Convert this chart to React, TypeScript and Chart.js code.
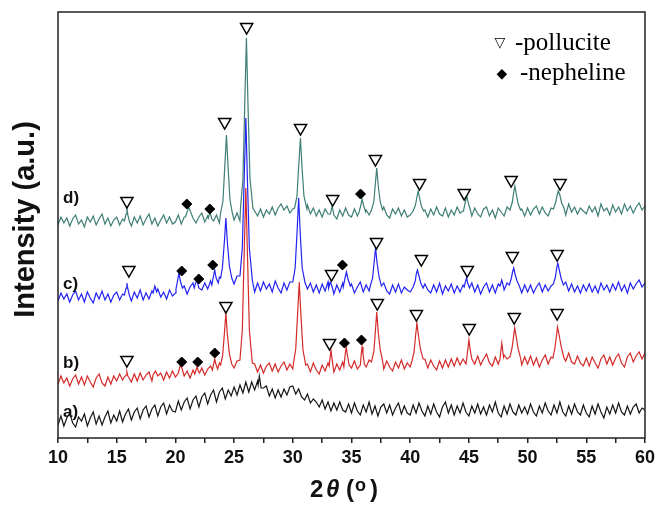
import React, { useEffect, useRef } from 'react';
import { Chart, registerables } from 'chart.js';
Chart.register(...registerables);

// 2-theta grid (degrees)
const theta = [
  10,10.25,10.5,10.75,11,11.25,11.5,11.75,12,12.25,12.5,12.75,13,13.25,13.5,13.75,14,14.25,14.5,14.75,
  15,15.25,15.5,15.75,16,16.25,16.5,16.75,17,17.25,17.5,17.75,18,18.25,18.5,18.75,19,19.25,19.5,19.75,
  20,20.25,20.5,20.75,21,21.25,21.5,21.75,22,22.25,22.5,22.75,23,23.25,23.5,23.75,24,24.25,24.5,24.75,
  25,25.25,25.5,25.75,26,26.25,26.5,26.75,27,27.25,27.5,27.75,28,28.25,28.5,28.75,29,29.25,29.5,29.75,
  30,30.25,30.5,30.75,31,31.25,31.5,31.75,32,32.25,32.5,32.75,33,33.25,33.5,33.75,34,34.25,34.5,34.75,
  35,35.25,35.5,35.75,36,36.25,36.5,36.75,37,37.25,37.5,37.75,38,38.25,38.5,38.75,39,39.25,39.5,39.75,
  40,40.25,40.5,40.75,41,41.25,41.5,41.75,42,42.25,42.5,42.75,43,43.25,43.5,43.75,44,44.25,44.5,44.75,
  45,45.25,45.5,45.75,46,46.25,46.5,46.75,47,47.25,47.5,47.75,48,48.25,48.5,48.75,49,49.25,49.5,49.75,
  50,50.25,50.5,50.75,51,51.25,51.5,51.75,52,52.25,52.5,52.75,53,53.25,53.5,53.75,54,54.25,54.5,54.75,
  55,55.25,55.5,55.75,56,56.25,56.5,56.75,57,57.25,57.5,57.75,58,58.25,58.5,58.75,59,59.25,59.5,59.75,
  60,
];

// baseline intensities (a.u., offset per pattern) on the grid
const yA = [
  13,22,12,20,25,15,11,21,17,24,12,20,26,14,22,13,21,27,15,23,
  17,27,16,24,29,18,26,30,19,28,32,21,29,33,22,31,35,24,33,27,
  26,37,28,36,40,29,38,42,31,41,45,34,43,48,36,46,50,39,48,42,
  51,43,53,45,56,46,56,48,57,58,50,52,42,49,40,48,41,49,43,51,
  52,44,49,41,38,44,35,39,36,31,38,29,36,27,35,28,36,28,26,34,
  25,35,27,23,33,26,36,24,32,22,31,34,25,33,23,30,35,24,32,25,
  23,33,25,35,27,22,32,24,34,26,21,31,36,25,33,23,32,25,35,26,
  22,32,25,34,24,31,23,33,26,36,25,21,32,24,34,26,23,33,25,31,
  24,34,26,22,32,25,35,27,23,33,25,36,26,22,32,24,34,26,23,33,
  25,21,32,24,34,26,20,31,24,33,25,35,26,23,32,24,31,34,25,30,
  28,
];
const yB = [
  54,62,55,60,52,59,63,54,61,53,62,56,51,60,64,55,52,61,54,62,
  57,64,58,66,61,56,64,57,65,58,63,66,57,62,66,65,58,66,60,67,
  61,68,64,62,67,60,68,70,65,70,63,69,72,66,69,75,70,74,71,76,
  70,77,71,74,78,70,68,74,66,73,65,72,75,67,74,66,72,76,68,74,
  69,74,76,78,75,74,66,75,68,64,73,67,75,70,66,74,68,76,71,69,
  70,77,69,74,78,71,78,72,75,78,74,69,77,71,67,76,70,78,69,75,
  71,76,79,82,78,79,70,78,72,68,77,70,78,71,79,72,80,73,79,74,
  77,80,74,82,73,79,84,75,72,81,74,80,83,79,82,78,81,77,73,81,
  74,82,73,80,71,78,83,74,81,82,78,81,84,77,85,76,74,82,75,72,
  80,72,81,75,70,79,83,74,81,73,80,84,75,71,81,85,76,82,86,79,
  85,
];
const yC = [
  137,145,139,144,136,143,147,138,144,136,146,140,135,145,139,147,138,144,136,143,
  146,138,144,155,144,137,146,140,148,138,145,139,147,143,149,141,146,139,148,142,
  145,165,149,152,144,151,155,148,152,148,155,149,157,152,155,161,160,162,157,160,
  154,162,155,159,163,154,151,146,155,147,156,149,154,146,157,150,145,155,148,156,
  152,155,158,160,157,149,155,146,153,145,154,147,156,150,144,153,146,155,150,148,
  154,145,151,156,146,153,147,154,156,152,149,155,147,144,153,146,154,145,151,148,
  146,152,148,151,155,154,148,145,153,146,155,144,152,147,154,145,152,146,153,153,
  149,155,146,153,144,151,155,146,153,145,154,155,148,155,156,152,149,151,145,153,
  146,153,145,151,155,146,153,147,152,155,158,153,160,156,147,154,146,152,145,153,
  147,154,146,152,145,155,148,153,146,154,148,156,147,153,145,155,149,154,158,151,
  155,
];
const yD = [
  213,221,215,220,212,219,223,214,218,211,221,216,222,213,219,224,214,220,212,218,
  221,213,219,230,217,212,221,215,222,213,219,224,214,220,212,218,223,215,221,214,
  216,223,214,221,225,217,223,215,221,225,216,222,226,217,223,215,222,226,219,221,
  218,225,217,224,224,226,220,227,222,229,221,228,224,231,223,230,234,228,232,225,
  229,224,227,229,230,233,224,230,222,228,221,229,224,230,223,219,228,222,230,223,
  221,229,222,228,230,228,223,230,231,227,224,231,223,220,229,224,230,222,228,221,
  223,230,224,227,231,228,221,229,223,231,224,222,230,221,228,223,231,225,227,230,
  228,222,230,224,221,229,231,222,228,220,230,226,222,231,225,229,226,223,229,222,
  230,223,229,232,224,231,225,222,230,231,228,226,232,223,234,226,231,224,230,227,
  224,232,226,231,222,234,227,230,223,233,226,231,224,234,227,232,225,231,235,228,
  232,
];

// diffraction peaks [2theta, intensity]
const peaksA = [
  [[27.05,53],[27.15,62],[27.3,50]],
];
const peaksB = [
  [[15.65,61],[15.8,63],[15.87,66],[15.95,62],[16.1,59]],
  [[18.1,63],[18.3,67],[18.5,62]],
  [[20.25,65],[20.38,71],[20.45,74],[20.55,70],[20.7,64]],
  [[21.65,64],[21.78,69],[21.85,71],[21.95,67],[22.05,65]],
  [[23.15,68],[23.28,75],[23.35,79],[23.45,74],[23.6,69]],
  [[23.85,73],[24.02,82],[24.17,104],[24.3,125],[24.43,103],[24.6,84],[24.8,74]],
  [[25.5,78],[25.7,108],[25.85,180],[26.0,250],[26.15,178],[26.3,108],[26.55,75]],
  [[30.05,74],[30.25,89],[30.4,122],[30.55,156],[30.7,121],[30.87,88],[31.1,73]],
  [[33.1,72],[33.25,88],[33.4,74]],
  [[34.35,71],[34.47,84],[34.55,91],[34.65,83],[34.8,73]],
  [[35.75,73],[35.85,86],[35.9,91],[35.98,84],[36.1,74]],
  [[36.7,76],[36.9,86],[37.03,106],[37.15,126],[37.28,106],[37.45,88],[37.65,77]],
  [[40.15,77],[40.33,86],[40.45,101],[40.57,115],[40.7,103],[40.87,89],[41.1,79]],
  [[44.8,78],[44.92,90],[45.0,98],[45.1,89],[45.25,79]],
  [[47.65,79],[47.8,95],[47.95,81]],
  [[48.5,81],[48.68,90],[48.8,101],[48.9,110],[49.02,102],[49.18,90],[49.4,80]],
  [[52.15,80],[52.33,90],[52.45,101],[52.55,111],[52.67,104],[52.85,92],[53.1,80]],
];
const peaksC = [
  [[15.65,143],[15.8,150],[15.87,155],[15.95,149],[16.1,142]],
  [[18.1,145],[18.25,152],[18.4,146]],
  [[20.05,149],[20.18,157],[20.3,165],[20.42,157],[20.6,150]],
  [[21.6,150],[21.75,156],[21.85,157],[22.0,150]],
  [[23.1,153],[23.23,161],[23.35,168],[23.47,160],[23.65,155]],
  [[23.85,160],[24.0,170],[24.17,196],[24.3,220],[24.43,195],[24.6,172],[24.8,160]],
  [[25.5,162],[25.7,190],[25.85,255],[26.0,320],[26.15,252],[26.3,190],[26.55,158]],
  [[30.0,156],[30.2,170],[30.36,205],[30.5,240],[30.64,203],[30.8,170],[31.05,155]],
  [[33.05,150],[33.2,156],[33.3,153],[33.4,149]],
  [[34.3,151],[34.45,160],[34.57,166],[34.7,159],[34.9,152]],
  [[36.6,152],[36.8,160],[36.93,176],[37.05,190],[37.18,175],[37.35,161],[37.55,152]],
  [[40.25,151],[40.43,157],[40.52,164],[40.62,168],[40.75,162],[40.9,155],[41.1,150]],
  [[44.6,151],[44.72,157],[44.8,160],[44.9,155],[45.05,150]],
  [[47.65,152],[47.8,158],[47.95,151]],
  [[48.45,153],[48.62,160],[48.72,166],[48.82,170],[48.95,163],[49.1,157],[49.3,152]],
  [[52.2,154],[52.37,161],[52.47,169],[52.57,175],[52.7,168],[52.85,160],[53.05,153]],
];
const peaksD = [
  [[15.65,217],[15.8,224],[15.87,230],[15.95,223],[16.1,216]],
  [[20.85,221],[21.0,226],[21.15,231],[21.3,226],[21.5,220]],
  [[22.8,220],[22.95,226],[23.1,219]],
  [[23.85,225],[24.05,237],[24.2,270],[24.35,303],[24.5,268],[24.65,238],[24.85,225]],
  [[25.55,231],[25.75,258],[25.9,330],[26.05,400],[26.2,326],[26.35,260],[26.6,230]],
  [[30.15,230],[30.35,241],[30.5,271],[30.65,300],[30.8,268],[30.95,242],[31.2,229]],
  [[33.2,224],[33.35,232],[33.5,223]],
  [[35.65,226],[35.8,233],[35.9,239],[36.02,233],[36.2,226]],
  [[36.7,228],[36.9,236],[37.03,254],[37.15,270],[37.28,252],[37.45,236],[37.65,228]],
  [[40.25,227],[40.45,233],[40.57,241],[40.68,247],[40.8,240],[40.95,232],[41.15,227]],
  [[44.55,228],[44.7,236],[44.82,242],[44.95,235],[45.15,227]],
  [[48.5,228],[48.7,236],[48.82,246],[48.92,252],[49.05,243],[49.2,234],[49.4,228]],
  [[52.2,229],[52.4,236],[52.52,243],[52.62,247],[52.75,243],[52.9,235],[53.1,230]],
];

// phase markers [2theta, intensity]
const pollB = [[15.87,78],[24.3,132],[33.13,95],[37.2,135],[40.53,124],[45.03,110],[48.86,121],[52.52,125]];
const nephB = [[20.54,76],[21.9,76],[23.35,85],[34.4,95],[35.85,98]];
const pollC = [[16.04,168],[33.3,164],[37.13,196],[40.95,179],[44.86,168],[48.7,182],[52.52,184]];
const nephC = [[20.54,167],[21.99,159],[23.18,173],[34.23,173]];
const pollD = [[15.87,237],[24.2,316],[26.07,411],[30.66,310],[33.4,239],[37.04,279],[40.8,255],[44.6,245],[48.6,258],[52.77,255]];
const nephD = [[20.97,234],[22.93,229],[35.77,244]];

const majorTicks = [10, 15, 20, 25, 30, 35, 40, 45, 50, 55, 60];
const seriesNames = ['a)', 'b)', 'c)', 'd)'];
const legendNames = ['-pollucite', '-nepheline'];
const yTitle = 'Intensity (a.u.)';

const SANS = '"Liberation Sans", Arial, Helvetica, sans-serif';

function buildSeries(ys: number[], peaks: number[][][]) {
  const pts: { x: number; y: number }[] = [];
  theta.forEach((x, i) => {
    const inside = peaks.some((p) => x >= p[0][0] && x <= p[p.length - 1][0]);
    if (!inside) pts.push({ x, y: ys[i] });
  });
  peaks.forEach((p) => p.forEach(([x, y]) => pts.push({ x, y })));
  pts.sort((a, b) => a.x - b.x);
  return pts;
}

const toPts = (arr: number[][]) => arr.map(([x, y]) => ({ x, y }));

const textPlugin = {
  id: 'xrdTexts',
  afterDraw(chart: any) {
    const { ctx, chartArea: a } = chart;
    ctx.save();
    ctx.strokeStyle = '#222';
    ctx.lineWidth = 1.5;
    ctx.strokeRect(a.left, a.top, a.right - a.left, a.bottom - a.top);

    ctx.fillStyle = '#111';
    ctx.save();
    ctx.translate(34, 219.5);
    ctx.rotate(-Math.PI / 2);
    ctx.font = `bold 29px ${SANS}`;
    ctx.textAlign = 'center';
    ctx.textBaseline = 'alphabetic';
    ctx.fillText(yTitle, 0, 0);
    ctx.restore();

    ctx.textAlign = 'left';
    ctx.textBaseline = 'alphabetic';
    ctx.font = `bold 24px ${SANS}`;
    ctx.fillText('2', 310, 497);
    ctx.font = `italic bold 24px ${SANS}`;
    ctx.fillText('θ', 326, 497);
    ctx.font = `bold 24px ${SANS}`;
    ctx.fillText('(', 346, 497);
    ctx.font = `bold 18px ${SANS}`;
    ctx.fillText('o', 355, 491);
    ctx.font = `bold 24px ${SANS}`;
    ctx.fillText(')', 370, 497);

    ctx.font = `bold 17px ${SANS}`;
    ctx.textBaseline = 'middle';
    ctx.fillText(seriesNames[3], 63, 198);
    ctx.fillText(seriesNames[2], 63, 284);
    ctx.fillText(seriesNames[1], 63, 363);
    ctx.fillText(seriesNames[0], 63, 412);

    ctx.fillStyle = '#000';
    ctx.textAlign = 'center';
    ctx.font = '14px "DejaVu Sans", sans-serif';
    ctx.fillText('▽', 500, 43);
    ctx.fillText('◆', 502, 74);
    ctx.textAlign = 'left';
    ctx.textBaseline = 'alphabetic';
    ctx.font = '25px "Liberation Serif", "Times New Roman", serif';
    ctx.fillText(legendNames[0], 515, 50);
    ctx.fillText(legendNames[1], 520, 80);
    ctx.restore();
  },
};

export default function App() {
  const ref = useRef<HTMLCanvasElement | null>(null);
  useEffect(() => {
    if (!ref.current) return;
    const lineDs = (label: string, data: any, color: string, order: number) => ({
      label,
      data,
      showLine: true,
      borderColor: color,
      backgroundColor: color,
      borderWidth: 1.2,
      pointRadius: 0,
      tension: 0,
      order,
    });
    const triDs = (data: number[][]) => ({
      label: 'pollucite',
      data: toPts(data),
      showLine: false,
      pointStyle: 'triangle',
      rotation: 180,
      pointRadius: 7,
      borderColor: '#000',
      backgroundColor: '#fff',
      borderWidth: 1.5,
      order: 0,
    });
    const diaDs = (data: number[][]) => ({
      label: 'nepheline',
      data: toPts(data),
      showLine: false,
      pointStyle: 'rectRot',
      pointRadius: 5,
      borderColor: '#000',
      backgroundColor: '#000',
      borderWidth: 1,
      order: 0,
    });
    const chart = new Chart(ref.current, {
      type: 'scatter',
      data: {
        datasets: [
          lineDs('a', buildSeries(yA, peaksA), '#151515', 4),
          lineDs('b', buildSeries(yB, peaksB), '#d42a2a', 3),
          lineDs('c', buildSeries(yC, peaksC), '#2323f2', 2),
          lineDs('d', buildSeries(yD, peaksD), '#3f7f76', 1),
          triDs(pollB), diaDs(nephB),
          triDs(pollC), diaDs(nephC),
          triDs(pollD), diaDs(nephD),
        ] as any,
      },
      options: {
        animation: false,
        responsive: false,
        layout: { padding: { top: 12, right: 13, left: 0, bottom: 0 } },
        plugins: { legend: { display: false }, tooltip: { enabled: false } },
        scales: {
          x: {
            type: 'linear',
            min: 10,
            max: 60,
            afterFit: (s: any) => { s.height = 70; },
            ticks: {
              stepSize: 2.5,
              autoSkip: false,
              maxRotation: 0,
              padding: 4,
              color: '#111',
              font: { family: SANS, size: 18, weight: 'bold' },
              callback: (v: any) => (majorTicks.includes(Number(v)) ? String(v) : ''),
            },
            grid: { drawOnChartArea: false, drawTicks: true, tickLength: 5, color: '#222', lineWidth: 1.5 },
            border: { display: false },
          },
          y: {
            min: 0,
            max: 426,
            afterFit: (s: any) => { s.width = 58; },
            ticks: { display: false },
            grid: { display: false },
            border: { display: false },
          },
        },
      } as any,
      plugins: [textPlugin],
    });
    return () => chart.destroy();
  }, []);
  return (
    <div style={{ position: 'fixed', left: 0, top: 0, width: 659, height: 508, background: '#fff' }}>
      <canvas ref={ref} width={659} height={508} style={{ display: 'block' }} />
    </div>
  );
}
